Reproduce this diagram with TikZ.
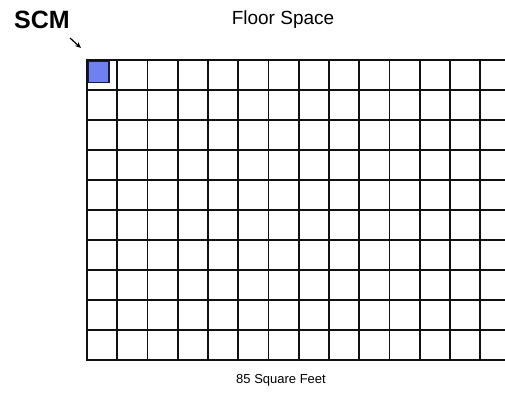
\documentclass[tikz,border=0pt]{standalone}
\usepackage{fontspec}
\setmainfont{Liberation Sans}
\usepackage{tikz}
\usetikzlibrary{arrows.meta}
\definecolor{scmAzul}{HTML}{6F80F0}
\definecolor{scmBorde}{HTML}{1A1A40}
\definecolor{rejillaBorde}{HTML}{111111}

\begin{document}
\begin{tikzpicture}[
  x=1pt, y=-1pt,
  celda/.style={draw=rejillaBorde, line width=1.7pt},
]
  % Marco de la figura
  \useasboundingbox (0,0) rectangle (505,405);

  % Titulos
  \node[font=\fontsize{25}{28}\selectfont\bfseries] (scm) at (42,20) {SCM};
  \node[font=\fontsize{19}{22}\selectfont] (titulo) at (283,20) {Floor Space};
  \node[font=\fontsize{13}{15}\selectfont] (pie) at (281,380) {85 Square Feet};

  % Flecha hacia el SCM
  \coordinate (flechaIni) at (70,38);
  \coordinate (flechaFin) at (81,48);
  \draw[line width=1.2pt, -{Stealth[length=6pt,width=5pt]}] (flechaIni) -- (flechaFin);

  % Rejilla 13x10 (mas una columna abierta a la derecha)
  \foreach \x in {0,...,12} \foreach \y in {0,...,9} {
    \draw[celda] (87+\x*30.25,60+\y*30) rectangle (87+\x*30.25+30.25,60+\y*30+30);
  }
  \foreach \y in {0,...,10} {
    \draw[celda] (480.25,60+\y*30) -- (505,60+\y*30);
  }

  % Celda del SCM
  \draw[fill=scmAzul, draw=scmBorde, line width=1.2pt] (88.5,61.5) rectangle (109,82.5);
\end{tikzpicture}
\end{document}
